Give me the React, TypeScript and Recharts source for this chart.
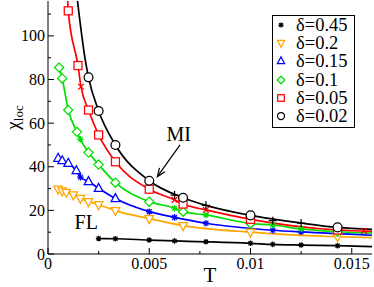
import React from 'react';
import {
  ComposedChart,
  Line,
  Scatter,
  XAxis,
  YAxis,
  ReferenceLine,
  ReferenceDot,
  Legend,
} from 'recharts';

type Pt = [number, number];

const FONT = '"Liberation Serif", "DejaVu Serif", serif';

// delta = 0.45 (black stars)
const stars045: Pt[] = [
  [0.0025, 7.1], [0.00333, 7.0], [0.005, 6.4], [0.00625, 6.0], [0.0078, 5.6],
  [0.01, 4.9], [0.0111, 4.4], [0.0125, 4.1], [0.0143, 3.8],
];
const curve045: Pt[] = [...stars045, [0.016, 3.4]];

// delta = 0.2 (orange down triangles)
const tri02: Pt[] = [
  [0.0005, 29.7], [0.0007, 28.9], [0.0009, 28.3], [0.00125, 27.1], [0.0016, 25.5],
  [0.002, 24.0], [0.0025, 22.6], [0.00333, 19.9], [0.005, 16.2], [0.00667, 13.0],
  [0.01, 10.0], [0.0143, 7.9],
];
const curve02: Pt[] = [...tri02, [0.016, 7.5]];

// delta = 0.15 (blue up triangles + stars)
const tri015: Pt[] = [
  [0.0005, 43.9], [0.0007, 42.8], [0.001, 41.6], [0.0014, 38.2], [0.002, 33.2],
  [0.0025, 30.1], [0.00333, 25.4],
];
const star015: Pt[] = [
  [0.0016, 35.2], [0.005, 19.4], [0.00625, 16.8], [0.0078, 14.1], [0.0111, 10.9], [0.0125, 10.1],
];
const curve015: Pt[] = [
  [0.0005, 43.9], [0.0007, 42.8], [0.001, 41.6], [0.0014, 38.2], [0.0016, 35.2],
  [0.002, 33.2], [0.0025, 30.1], [0.00333, 25.4], [0.005, 19.4], [0.00625, 16.8],
  [0.0078, 14.1], [0.0111, 10.9], [0.0125, 10.1], [0.016, 8.6],
];

// delta = 0.1 (green diamonds + stars)
const dia01: Pt[] = [
  [0.00055, 85.5], [0.0007, 80.5], [0.001, 66.0], [0.00143, 56.0], [0.002, 46.5],
  [0.0025, 41.0], [0.00333, 32.7], [0.005, 24.0], [0.00667, 19.4], [0.01, 14.0], [0.0143, 10.2],
];
const star01: Pt[] = [
  [0.0016, 52.6], [0.00625, 21.0], [0.0078, 17.9], [0.0111, 13.3], [0.0125, 11.5],
];
const curve01: Pt[] = [
  [0.00055, 85.5], [0.0007, 80.5], [0.001, 66.0], [0.00143, 56.0], [0.0016, 52.6],
  [0.002, 46.5], [0.0025, 41.0], [0.00333, 32.7], [0.005, 24.0], [0.00625, 21.0],
  [0.00667, 19.4], [0.0078, 17.9], [0.01, 14.0], [0.0111, 13.3], [0.0125, 11.5],
  [0.0143, 10.2], [0.016, 9.6],
];

// delta = 0.05 (red squares + crosses)
const sq005: Pt[] = [
  [0.001, 111.5], [0.00148, 86.4], [0.002, 66.0], [0.0025, 54.6], [0.00333, 42.3],
  [0.005, 29.7], [0.00667, 22.9], [0.01, 15.9], [0.0143, 11.0],
];
const cross005: Pt[] = [[0.00163, 76.7], [0.00625, 24.8], [0.0078, 20.2], [0.0156, 10.6]];
const curve005: Pt[] = [
  [0.00097, 116.5], [0.001, 111.5], [0.00148, 86.4], [0.00163, 76.7], [0.002, 66.0],
  [0.0025, 54.6], [0.00333, 42.3], [0.005, 29.7], [0.00625, 24.8], [0.00667, 22.9],
  [0.0078, 20.2], [0.01, 15.9], [0.0143, 11.0], [0.016, 10.4],
];

// delta = 0.02 (black circles + pluses)
const circ002: Pt[] = [
  [0.002, 81.0], [0.0025, 65.6], [0.00333, 50.0], [0.005, 33.6], [0.00667, 25.8],
  [0.01, 17.7], [0.0143, 12.2],
];
const plus002: Pt[] = [[0.00625, 27.0], [0.0078, 22.3], [0.0111, 15.3], [0.0125, 14.2]];
const curve002: Pt[] = [
  [0.00145, 116.5], [0.00184, 89.0], [0.002, 81.0], [0.0025, 65.6], [0.00333, 50.0],
  [0.005, 33.6], [0.00667, 25.8], [0.0078, 22.3], [0.01, 17.7], [0.0125, 14.2],
  [0.0143, 12.2], [0.016, 11.3],
];

const xTicks = [0, 0.0025, 0.005, 0.0075, 0.01, 0.0125, 0.015];
const xTickLabels = ['0', '', '0.005', '', '0.01', '', '0.015'];
const yTicks = [0, 10, 20, 30, 40, 50, 60, 70, 80, 90, 100, 110];
const yTickLabels = ['0', '', '20', '', '40', '', '60', '', '80', '', '100', ''];

const arrowMI: Pt[] = [[0.00652, 50.0], [0.0054, 35.5]];
const labelMI: Pt = [0.00645, 51.6];
const labelFL: Pt = [0.00189, 11.3];

const rows = (pts: Pt[]) => pts.map(([T, v]) => ({ T, v }));

type Kind = 'circle' | 'square' | 'triUp' | 'triDown' | 'diamond' | 'plus' | 'cross' | 'star';

function Mark({ kind, cx, cy, color, s }: { kind: Kind; cx: number; cy: number; color: string; s: number }) {
  const sw = 1.25;
  const p = { fill: '#fff', stroke: color, strokeWidth: sw };
  switch (kind) {
    case 'circle':
      return <circle cx={cx} cy={cy} r={s} {...p} />;
    case 'square':
      return <rect x={cx - s} y={cy - s} width={2 * s} height={2 * s} {...p} />;
    case 'triUp':
      return <polygon points={`${cx},${cy - 1.15 * s} ${cx - s},${cy + 0.7 * s} ${cx + s},${cy + 0.7 * s}`} {...p} />;
    case 'triDown':
      return <polygon points={`${cx},${cy + 1.15 * s} ${cx - s},${cy - 0.7 * s} ${cx + s},${cy - 0.7 * s}`} {...p} />;
    case 'diamond':
      return <polygon points={`${cx},${cy - s} ${cx + s},${cy} ${cx},${cy + s} ${cx - s},${cy}`} {...p} />;
    case 'plus':
      return <path d={`M${cx - s},${cy}H${cx + s}M${cx},${cy - s}V${cy + s}`} stroke={color} strokeWidth={sw} fill="none" />;
    case 'cross': {
      const d = s * 0.8;
      return <path d={`M${cx - d},${cy - d}L${cx + d},${cy + d}M${cx - d},${cy + d}L${cx + d},${cy - d}`} stroke={color} strokeWidth={sw} fill="none" />;
    }
    default: {
      const d = s * 0.72;
      return (
        <path
          d={`M${cx - s},${cy}H${cx + s}M${cx},${cy - s}V${cy + s}M${cx - d},${cy - d}L${cx + d},${cy + d}M${cx - d},${cy + d}L${cx + d},${cy - d}`}
          stroke={color}
          strokeWidth={sw}
          fill="none"
        />
      );
    }
  }
}

interface MarkSet { pts: Pt[]; kind: Kind; s: number }
interface Series { name: string; color: string; curve: Pt[]; marks: MarkSet[]; legend: Kind; ls: number }

const series: Series[] = [
  { name: 'δ=0.45', color: '#000000', curve: curve045, marks: [{ pts: stars045, kind: 'star', s: 2.8 }], legend: 'star', ls: 2.6 },
  { name: 'δ=0.2', color: '#ffa500', curve: curve02, marks: [{ pts: tri02, kind: 'triDown', s: 4.3 }], legend: 'triDown', ls: 3.6 },
  { name: 'δ=0.15', color: '#0000ff', curve: curve015, marks: [{ pts: tri015, kind: 'triUp', s: 4.3 }, { pts: star015, kind: 'star', s: 3.3 }], legend: 'triUp', ls: 3.6 },
  { name: 'δ=0.1', color: '#00e000', curve: curve01, marks: [{ pts: dia01, kind: 'diamond', s: 4.6 }, { pts: star01, kind: 'star', s: 3.3 }], legend: 'diamond', ls: 3.8 },
  { name: 'δ=0.05', color: '#ff0000', curve: curve005, marks: [{ pts: sq005, kind: 'square', s: 4 }, { pts: cross005, kind: 'cross', s: 3.6 }], legend: 'square', ls: 3.3 },
  { name: 'δ=0.02', color: '#000000', curve: curve002, marks: [{ pts: circ002, kind: 'circle', s: 4.4 }, { pts: plus002, kind: 'plus', s: 4 }], legend: 'circle', ls: 3.5 },
];

const txt = { fontFamily: FONT, fill: '#000' };

function BottomTick(props: any) {
  const { x, y, payload } = props;
  const label = xTickLabels[xTicks.indexOf(payload.value)];
  return (
    <g>
      <line x1={x} x2={x} y1={y} y2={y - (label ? 6 : 3)} stroke="#000" />
      {label ? (
        <text x={x} y={y + 14.5} textAnchor="middle" fontSize={16} {...txt}>
          {label}
        </text>
      ) : null}
    </g>
  );
}

function TopTick(props: any) {
  const { x, y, payload } = props;
  const label = xTickLabels[xTicks.indexOf(payload.value)];
  return <line x1={x} x2={x} y1={y} y2={y + (label ? 6 : 3)} stroke="#000" />;
}

function LeftTick(props: any) {
  const { x, y, payload } = props;
  const label = yTickLabels[yTicks.indexOf(payload.value)];
  return (
    <g>
      <line x1={x} x2={x + (label ? 6 : 3)} y1={y} y2={y} stroke="#000" />
      {label ? (
        <text x={x - 3} y={y + 5.5} textAnchor="end" fontSize={16} {...txt}>
          {label}
        </text>
      ) : null}
    </g>
  );
}

function RightTick(props: any) {
  const { x, y, payload } = props;
  const label = yTickLabels[yTicks.indexOf(payload.value)];
  return <line x1={x} x2={x - (label ? 6 : 3)} y1={y} y2={y} stroke="#000" />;
}

function ArrowShape(props: any) {
  const { x1, y1, x2, y2 } = props;
  const a = Math.atan2(y2 - y1, x2 - x1);
  const L = 9;
  const w = 0.38;
  const b1 = [x2 - L * Math.cos(a - w), y2 - L * Math.sin(a - w)];
  const b2 = [x2 - L * Math.cos(a + w), y2 - L * Math.sin(a + w)];
  return (
    <g stroke="#000" strokeWidth={1.2} fill="none">
      <line x1={x1} y1={y1} x2={x2} y2={y2} />
      <path d={`M${b1[0]},${b1[1]}L${x2},${y2}L${b2[0]},${b2[1]}`} />
    </g>
  );
}

const textShape = (value: string) => (p: any) => (
  <text x={p.cx} y={p.cy} textAnchor="middle" fontSize={20} {...txt}>
    {value}
  </text>
);

function LegendBox() {
  return (
    <div
      style={{
        position: 'relative',
        width: 83,
        height: 113,
        boxSizing: 'border-box',
        border: '1px solid #000',
        background: '#fff',
        fontFamily: FONT,
      }}
    >
      {series.map((s, i) => (
        <div
          key={s.name}
          style={{ position: 'absolute', left: 0, top: i * 18.2, height: 18, display: 'flex', alignItems: 'center' }}
        >
          <svg width={16} height={18} style={{ display: 'block' }}>
            <Mark kind={s.legend} cx={8} cy={9} color={s.color} s={s.ls} />
          </svg>
          <span style={{ marginLeft: 7, fontSize: 18.5, lineHeight: '18px', color: '#000', whiteSpace: 'nowrap' }}>{s.name}</span>
        </div>
      ))}
    </div>
  );
}

function YTitle(props: any) {
  const vb = props.viewBox || { x: 0, y: 0, width: 48, height: 254 };
  const cx = 19;
  const cy = vb.y + vb.height / 2 - 10;
  return (
    <text transform={`rotate(-90, ${cx}, ${cy})`} x={cx} y={cy} textAnchor="middle" fontSize={19} {...txt}>
      <tspan>χ</tspan>
      <tspan fontSize={13} dy={4}>loc</tspan>
    </text>
  );
}

function XTitle(props: any) {
  const vb = props.viewBox || { x: 48, y: 254, width: 324, height: 33 };
  return (
    <text x={vb.x + vb.width / 2} y={282} textAnchor="middle" fontSize={21} {...txt}>
      T
    </text>
  );
}

export default function App() {
  return (
    <div style={{ position: 'absolute', left: 0, top: 0, background: '#fff' }}>
      <ComposedChart width={374} height={287} margin={{ top: 1, right: 2, bottom: 0, left: 0 }}>
        <XAxis
          dataKey="T"
          type="number"
          domain={[0, 0.016]}
          allowDataOverflow
          ticks={xTicks}
          interval={0}
          tickSize={0}
          tickMargin={0}
          tickLine={false}
          tick={BottomTick}
          height={33}
          stroke="#000"
          label={<XTitle />}
        />
        <XAxis
          xAxisId="top"
          orientation="top"
          dataKey="T"
          type="number"
          domain={[0, 0.016]}
          allowDataOverflow
          ticks={xTicks}
          interval={0}
          tickSize={0}
          tickMargin={0}
          tickLine={false}
          tick={TopTick}
          height={0}
          stroke="#000"
        />
        <YAxis
          dataKey="v"
          type="number"
          domain={[0, 116]}
          allowDataOverflow
          ticks={yTicks}
          interval={0}
          tickSize={0}
          tickMargin={0}
          tickLine={false}
          tick={LeftTick}
          width={48}
          stroke="#000"
          label={<YTitle />}
        />
        <YAxis
          yAxisId="right"
          orientation="right"
          dataKey="v"
          type="number"
          domain={[0, 116]}
          allowDataOverflow
          ticks={yTicks}
          interval={0}
          tickSize={0}
          tickMargin={0}
          tickLine={false}
          tick={RightTick}
          width={0}
          stroke="#000"
        />
        {series.flatMap((s) => [
          <Line
            key={`${s.name}-line`}
            data={rows(s.curve)}
            dataKey="v"
            type="monotone"
            stroke={s.color}
            strokeWidth={1.7}
            dot={false}
            activeDot={false}
            legendType="none"
            isAnimationActive={false}
          />,
          ...s.marks.map((m, j) => (
            <Scatter
              key={`${s.name}-m${j}`}
              data={rows(m.pts)}
              dataKey="v"
              legendType="none"
              isAnimationActive={false}
              shape={(p: any) => <Mark kind={m.kind} cx={p.cx} cy={p.cy} color={s.color} s={m.s} />}
            />
          )),
        ])}
        <ReferenceLine
          segment={[
            { x: arrowMI[0][0], y: arrowMI[0][1] },
            { x: arrowMI[1][0], y: arrowMI[1][1] },
          ]}
          shape={ArrowShape}
        />
        <ReferenceDot x={labelMI[0]} y={labelMI[1]} r={0} shape={textShape('MI')} />
        <ReferenceDot x={labelFL[0]} y={labelFL[1]} r={0} shape={textShape('FL')} />
        <Legend
          layout="horizontal"
          verticalAlign="middle"
          align="center"
          width={83}
          height={113}
          wrapperStyle={{ left: 272, top: 15, width: 83, height: 113 }}
          content={() => <LegendBox />}
        />
      </ComposedChart>
    </div>
  );
}
